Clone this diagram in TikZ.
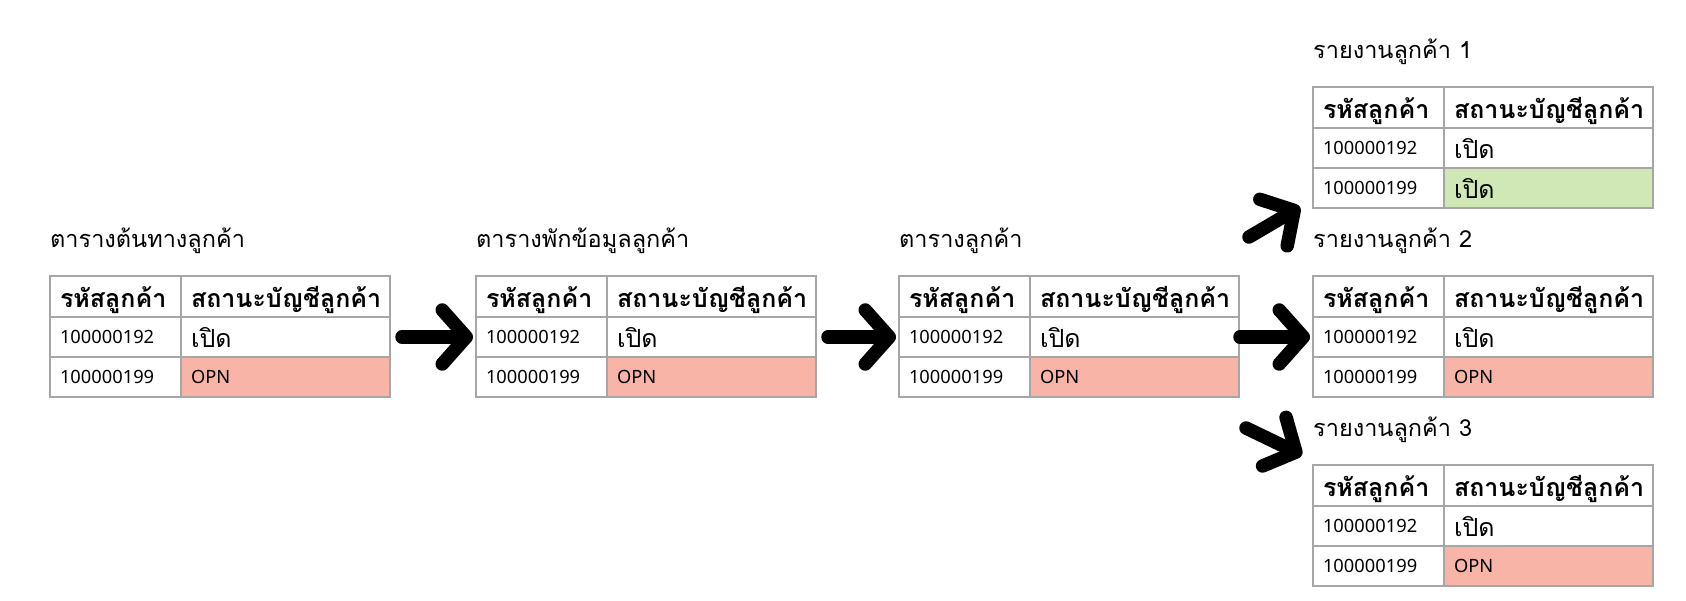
\documentclass[tikz,border=0pt]{standalone}
\usepackage{fontspec}
\setmainfont{Noto Sans}
\newfontfamily\thai[Script=Thai]{Loma}
\usetikzlibrary{positioning,arrows.meta}
\definecolor{cellgray}{RGB}{166,166,166}
\definecolor{opnred}{RGB}{247,180,167}
\definecolor{okgreen}{RGB}{207,232,182}

\begin{document}
\begin{tikzpicture}[x=1pt,y=-1pt]
% STYLES
\tikzset{%
    cell/.style={%
        rectangle,draw=cellgray,line width=1.3pt,inner xsep=10pt,inner ysep=0pt,
        outer sep=0pt,minimum height=40pt,align=left,text depth=2pt
    },
    idw/.style={text width=111pt},
    stw/.style={text width=189pt},
    latin/.style={font=\fontsize{18.3}{21}\selectfont,text height=14pt},
    thaicell/.style={font=\thai\fontsize{25}{28}\selectfont,text height=22pt},
    headcell/.style={cell,minimum height=41pt,font=\thai\bfseries\fontsize{25}{28}\selectfont,text height=23pt},
    tabletitle/.style={inner sep=0pt,font=\thai\fontsize{23.5}{28}\selectfont},
    bigarrow/.style={line width=13.5pt,line cap=round,-{Straight Barb[length=24pt,width=54pt,round]}}
}
\useasboundingbox (0,0) rectangle (1686,600);
% Draw tables
\foreach \tname/\tx/\ty/\ttitle/\tstat/\tkind/\tfill in {%
    src/50/276/ตารางต้นทางลูกค้า/OPN/latin/opnred,
    stage/476/276/ตารางพักข้อมูลลูกค้า/OPN/latin/opnred,
    cust/899/276/ตารางลูกค้า/OPN/latin/opnred,
    rep1/1313/87/รายงานลูกค้า 1/เปิด/thaicell/okgreen,
    rep2/1313/276/รายงานลูกค้า 2/OPN/latin/opnred,
    rep3/1313/465/รายงานลูกค้า 3/OPN/latin/opnred}{%
    \node [headcell,idw,anchor=north west] (\tname-id-h) at (\tx,\ty) {รหัสลูกค้า};
    \node [headcell,stw,right=0pt of \tname-id-h] (\tname-st-h) {สถานะบัญชีลูกค้า};
    \node [cell,idw,latin,below=0pt of \tname-id-h] (\tname-id-1) {100000192};
    \node [cell,stw,thaicell,below=0pt of \tname-st-h] (\tname-st-1) {เปิด};
    \node [cell,idw,latin,below=0pt of \tname-id-1] (\tname-id-2) {100000199};
    \node [cell,stw,\tkind,fill=\tfill,below=0pt of \tname-st-1] (\tname-st-2) {\tstat};
    \node [tabletitle,anchor=base west] (\tname-title) at ([yshift=29pt]\tname-id-h.north west) {\ttitle};
}
% Draw the arrows between tables
\coordinate (up tail) at ([shift={(10pt,39pt)}]cust-st-h.north east);
\coordinate (up tip) at ([shift={(-13pt,1pt)}]rep1-id-2.south west);
\coordinate (down tail) at ([shift={(7pt,-31pt)}]cust-st-2.south east);
\coordinate (down tip) at ([shift={(-11pt,10pt)}]rep3-id-h.north west);
\path[bigarrow,shorten <=12pt,shorten >=3pt]
    (src-st-1.east) edge (stage-id-1.west)
    (stage-st-1.east) edge (cust-id-1.west);
\path[bigarrow,shorten <=1pt,shorten >=3pt]
    (cust-st-1.east) edge (rep2-id-1.west);
\path[bigarrow]
    (up tail) edge (up tip)
    (down tail) edge (down tip);
\end{tikzpicture}
\end{document}
